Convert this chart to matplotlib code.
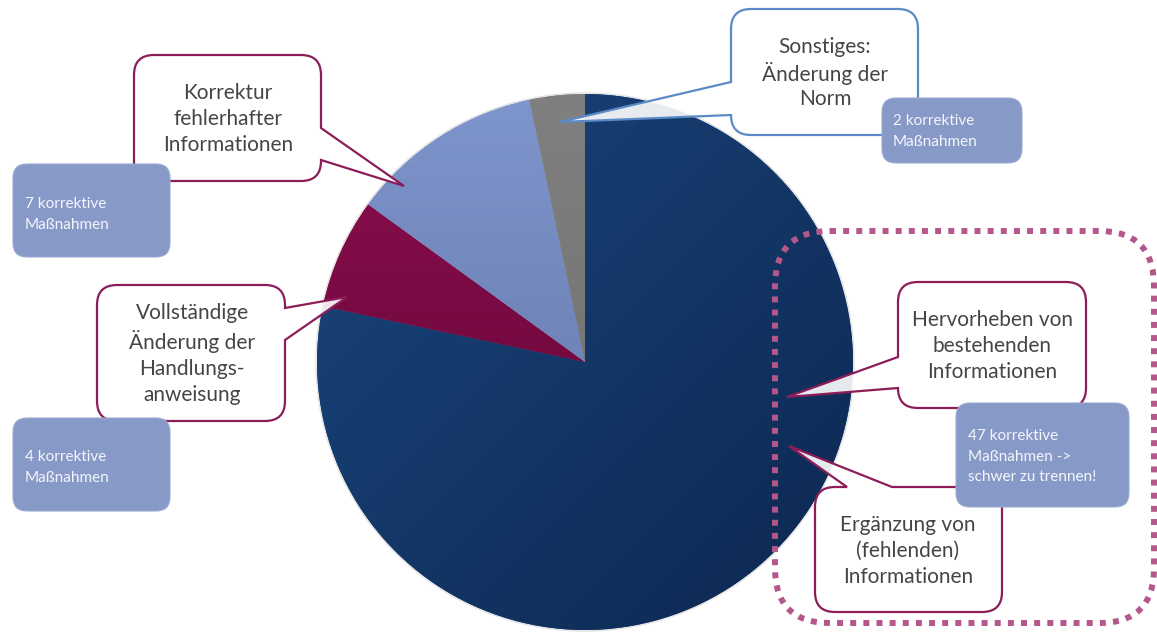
import numpy as np
import matplotlib
matplotlib.use("Agg")
import matplotlib.pyplot as plt
from matplotlib.path import Path
from matplotlib.patches import PathPatch
from matplotlib.colors import LinearSegmentedColormap

plt.rcParams['font.family'] = ['Lato', 'DejaVu Sans']

# ---- data ----
categories = ["Hervorheben / Ergänzung", "Vollständige Änderung der Handlungsanweisung",
              "Korrektur fehlerhafter Informationen", "Sonstiges: Änderung der Norm"]
values = [47, 4, 7, 2]
count_notes = [" ->\nschwer zu trennen!", "", "", ""]
bubble_texts = {
    "hervor": "Hervorheben von\nbestehenden\nInformationen",
    "ergaenz": "Ergänzung von\n(fehlenden)\nInformationen",
    "voll": "Vollständige\nÄnderung der\nHandlungs-\nanweisung",
    "korr": "Korrektur\nfehlerhafter\nInformationen",
    "sonst": "Sonstiges:\nÄnderung der\nNorm",
}

W, H = 1157, 632
fig = plt.figure(figsize=(W / 100, H / 100), dpi=100)
ax = fig.add_axes([0, 0, 1, 1])
ax.set_xlim(0, W)
ax.set_ylim(0, H)
ax.set_aspect('equal')
ax.axis('off')


def P(x, y):
    return (x, H - y)


# ---- pie ----
cx, cy, R = 585, 362, 268
gradients = [
    (["#1a467d", "#0d2750"], "diag"),
    (["#8e0f50", "#5a0430"], "vert"),
    (["#7e95cd", "#5f73a0"], "vert"),
    (["#808080", "#6c6c6c"], "vert"),
]
# soft rim
rim = plt.Circle(P(cx, cy), R + 1.0, facecolor='none', edgecolor='#e2e2e2', lw=1.0, zorder=1)
ax.add_patch(rim)
wedges, _ = ax.pie(values, startangle=90, counterclock=False, radius=R,
                   center=P(cx, cy), colors=[g[0][0] for g in gradients],
                   wedgeprops=dict(linewidth=0), frame=True)
ax.set_xlim(0, W)
ax.set_ylim(0, H)
ax.axis('off')
ext = (cx - R, cx + R, H - cy - R, H - cy + R)
n = 200
yy, xx = np.mgrid[0:1:n * 1j, 0:1:n * 1j]
for w, (cols, kind) in zip(wedges, gradients):
    w.set_zorder(2)
    cmap = LinearSegmentedColormap.from_list("g", cols)
    arr = (xx + yy) / 2 if kind == "diag" else yy
    im = ax.imshow(arr, cmap=cmap, extent=ext, origin='upper', zorder=3,
                   interpolation='bilinear', vmin=0, vmax=1)
    im.set_clip_path(w)


# ---- shapes ----
def rounded(x0, y0, x1, y1, r, side=None, p1=None, p2=None, tip=None):
    V, C = [], []

    def mv(p):
        V.append(P(*p)); C.append(Path.MOVETO)

    def ln(p):
        V.append(P(*p)); C.append(Path.LINETO)

    def cv(c, e):
        V.extend([P(*c), P(*e)]); C.extend([Path.CURVE3, Path.CURVE3])

    mv((x0 + r, y0))
    if side == 'top':
        ln((p1, y0)); ln(tip); ln((p2, y0))
    ln((x1 - r, y0))
    cv((x1, y0), (x1, y0 + r))
    if side == 'right':
        ln((x1, p1)); ln(tip); ln((x1, p2))
    ln((x1, y1 - r))
    cv((x1, y1), (x1 - r, y1))
    ln((x0 + r, y1))
    cv((x0, y1), (x0, y1 - r))
    if side == 'left':
        ln((x0, p2)); ln(tip); ln((x0, p1))
    ln((x0, y0 + r))
    cv((x0, y0), (x0 + r, y0))
    V.append(P(x0 + r, y0)); C.append(Path.CLOSEPOLY)
    return Path(V, C)


CRIMSON = '#8c1d58'
BLUE_EDGE = '#5b8ac6'
BOX = '#8799c7'
TXT = '#454545'
z = [5]


def bubble(key, box, r, side, p1, p2, tip, tx, ty, edge=CRIMSON, ls=1.38):
    z[0] += 1
    path = rounded(*box, r, side, p1, p2, tip)
    ax.add_patch(PathPatch(path, facecolor='white', alpha=0.9, edgecolor='none', zorder=z[0]))
    ax.add_patch(PathPatch(path, facecolor='none', edgecolor=edge, lw=1.6, zorder=z[0]))
    ax.text(*P(tx, ty), bubble_texts[key], ha='center', va='center', fontsize=15,
            color=TXT, linespacing=ls, zorder=z[0])


def infobox(box, value, note, tx, ty):
    z[0] += 1
    path = rounded(*box, 14)
    ax.add_patch(PathPatch(path, facecolor=BOX, edgecolor='#9aaad2', lw=0.8, zorder=z[0]))
    ax.text(*P(tx, ty), f"{value} korrektive\nMaßnahmen{note}", ha='left', va='top',
            fontsize=11, color='#f4f6fb', linespacing=1.6, zorder=z[0])


# dotted frame
frame = rounded(775, 231, 1154, 623, 55)
ax.add_patch(PathPatch(frame, facecolor='none', edgecolor='#b5578a', lw=4.3,
                       linestyle=(0, (1, 1.2)), capstyle='butt', zorder=4))

# left side
bubble("korr", (134, 55, 321, 181), 20, 'right', 128, 160, (404, 186), 228, 119)
infobox((13, 164, 170, 257), values[2], count_notes[2], 25, 197)
bubble("voll", (97, 285, 285, 421), 20, 'right', 308, 340, (347, 297), 192, 354)
infobox((13, 418, 170, 511), values[1], count_notes[1], 25, 450)

# top right
bubble("sonst", (731, 9, 918, 135), 20, 'left', 82, 115, (560, 122), 825, 73,
       edge=BLUE_EDGE, ls=1.28)
infobox((882, 98, 1022, 163), values[3], count_notes[3], 893, 114)

# right group
bubble("ergaenz", (815, 487, 1002, 612), 20, 'top', 847, 892, (789, 446), 908, 551)
bubble("hervor", (898, 282, 1086, 408), 20, 'left', 357, 388, (787, 397), 992, 346)
infobox((956, 403, 1129, 507), values[0], count_notes[0], 968, 429)

fig.savefig("out.png", dpi=100, facecolor='white')
